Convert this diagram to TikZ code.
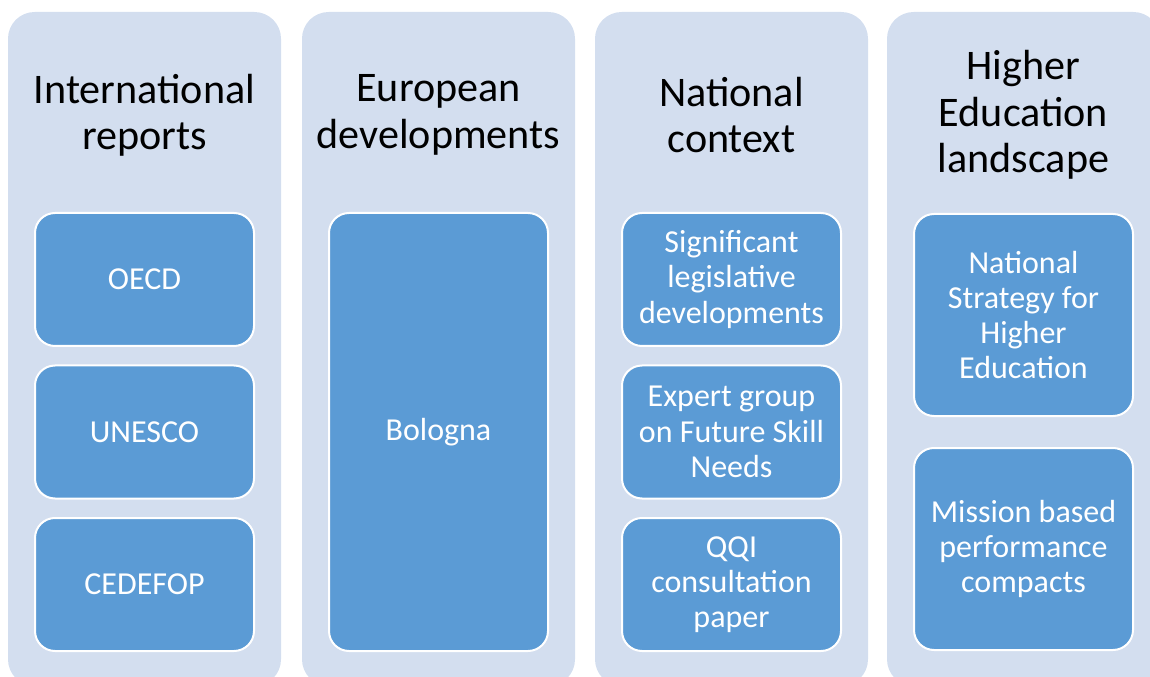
\documentclass[tikz,border=0pt]{standalone}
\usepackage{fontspec}
\setmainfont{Carlito}
\definecolor{panelbg}{HTML}{D3DEEF}
\definecolor{itemblue}{HTML}{5B9BD5}
\tikzset{
  panel/.style={fill=panelbg,rounded corners=20pt,inner sep=0pt,
    minimum width=204.75pt,minimum height=505.5pt},
  heading/.style={align=center,text=black,font=\fontsize{31.6}{34.7}\selectfont},
  itembox/.style={fill=itemblue,draw=white,line width=1.5pt,rounded corners=15pt,
    inner sep=0pt,minimum width=164.25pt,align=center,text=white,
    font=\fontsize{24}{26.4}\selectfont},
  lowbox/.style={itembox,minimum height=99.75pt},
  midbox/.style={itembox,minimum height=151.5pt},
}
\begin{document}
\begin{tikzpicture}[x=0.75pt,y=-0.75pt]
  \useasboundingbox (0,0) rectangle (1150,677);
  \clip (0,0) rectangle (1150,677);
  % column backgrounds
  \node[panel] (intl) at (144.5,349) {};
  \node[panel] (euro) at (438.5,349) {};
  \node[panel] (natl) at (731.5,349) {};
  \node[panel] (hel)  at (1023.5,349) {};
  % headings
  \node[heading] (intlh) at (144.5,115) {International\\reports};
  \node[heading] (euroh) at (438.5,115) {European\\developments};
  \node[heading] (natlh) at (731.5,115) {National\\context};
  \node[heading] (helh)  at (1023.5,115) {Higher\\Education\\landscape};
  % international reports
  \node[lowbox] (oecd)   at (144.5,279.5) {OECD};
  \node[lowbox] (unesco) at (144.5,432)   {UNESCO};
  \node[lowbox] (cedef)  at (144.5,584.5) {CEDEFOP};
  % european developments
  \node[itembox,minimum height=328.5pt] (bologna) at (438.5,432) {Bologna};
  % national context
  \node[lowbox] (legis)  at (731.5,279.5) {Significant\\legislative\\developments};
  \node[lowbox] (expert) at (731.5,432)   {Expert group\\on Future Skill\\Needs};
  \node[lowbox] (qqi)    at (731.5,584.5) {QQI\\consultation\\paper};
  % higher education landscape
  \node[midbox] (strat)  at (1023.5,315) {National\\Strategy for\\Higher\\Education};
  \node[midbox] (compact) at (1023.5,549) {Mission based\\performance\\compacts};
\end{tikzpicture}
\end{document}
